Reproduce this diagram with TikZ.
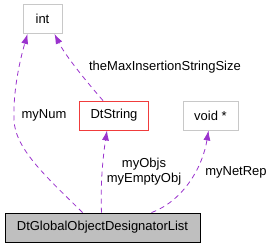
\documentclass[tikz,border=0pt]{standalone}
\usepackage{fontspec}
\setmainfont{Liberation Sans}
\definecolor{edgepurple}{RGB}{154,50,205}
\definecolor{boxgray}{RGB}{191,191,191}
\definecolor{lineGray}{RGB}{200,200,200}
\definecolor{boxred}{RGB}{240,60,60}
\usetikzlibrary{arrows.meta}

\tikzset{
  classbox/.style={draw=lineGray, line width=0.9pt, minimum height=29pt, inner sep=0pt,
    font=\fontsize{13}{15}\selectfont},
  mainbox/.style={classbox, draw=black, fill=boxgray},
  redbox/.style={classbox, draw=boxred},
  uses/.style={edgepurple, line width=0.8pt, dash pattern=on 5pt off 4pt,
    -{Latex[length=10pt,width=7pt]}},
  edgelabel/.style={font=\fontsize{13}{15}\selectfont, inner sep=0pt}
}

\begin{document}
\begin{tikzpicture}[x=1pt, y=-1pt]
    \useasboundingbox (0,0) rectangle (273,248);

    % classes
    \node[classbox, minimum width=39pt] (int) at (42.5,19) {int};
    \node[redbox, minimum width=69pt] (dtstring) at (114,115.5) {DtString};
    \node[classbox, minimum width=55pt] (voidptr) at (210.5,115.5) {void *};
    \node[mainbox, minimum width=195pt] (list) at (102.5,227.5) {DtGlobalObjectDesignatorList};

    % members
    \coordinate (numbend) at (14,120);
    \draw[uses] ([xshift=-20pt]list.north) .. controls (50,180) and (15,150) .. (numbend)
      .. controls (13,90) and (20,60) .. ([xshift=-15pt]int.south);
    \draw[uses] ([xshift=-11pt]dtstring.north) .. controls (85,80) and (65,55) .. ([xshift=12pt]int.south);
    \draw[uses] ([xshift=-1pt]list.north) .. controls (100,180) and (104,150) .. ([xshift=-7pt]dtstring.south);
    \draw[uses] ([xshift=49pt]list.north) .. controls (185,200) and (203,165) .. ([xshift=-2pt]voidptr.south);

    % labels
    \node[edgelabel] (lnum) at (44,115) {myNum};
    \node[edgelabel] (lmax) at (165,67) {theMaxInsertionStringSize};
    \node[edgelabel, align=center] (lobjs) at (144,171.5) {myObjs\\myEmptyObj};
    \node[edgelabel] (lnet) at (236,172) {myNetRep};
\end{tikzpicture}
\end{document}
